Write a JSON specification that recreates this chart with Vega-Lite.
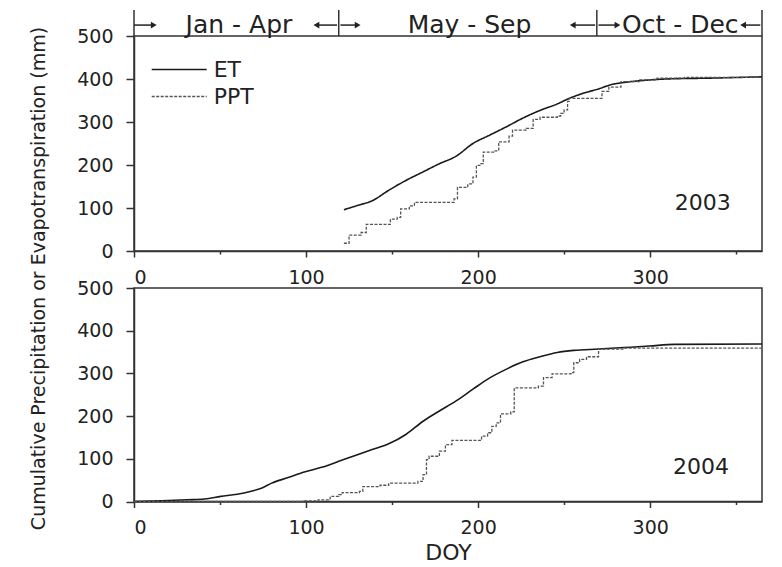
{
  "$schema": "https://vega.github.io/schema/vega-lite/v6.json",
  "background": "white",
  "padding": {"left": 28, "top": 8, "right": 5, "bottom": 3},
  "config": {
    "font": "DejaVu Sans",
    "view": {"stroke": "#333", "strokeWidth": 1.5},
    "axis": {
      "grid": false,
      "domainColor": "#333",
      "domainWidth": 1.5,
      "tickColor": "#333",
      "tickWidth": 1.5,
      "labelColor": "#222",
      "labelFont": "DejaVu Sans",
      "labelFontSize": 19,
      "titleColor": "#222",
      "titleFont": "DejaVu Sans",
      "titleFontWeight": "normal"
    }
  },
  "datasets": {
    "curves": [
      {"year": 2003, "series": "ET", "doy": 122, "mm": 96},
      {"year": 2003, "series": "ET", "doy": 130, "mm": 106},
      {"year": 2003, "series": "ET", "doy": 138.5, "mm": 117},
      {"year": 2003, "series": "ET", "doy": 148, "mm": 141},
      {"year": 2003, "series": "ET", "doy": 158, "mm": 164},
      {"year": 2003, "series": "ET", "doy": 168, "mm": 184},
      {"year": 2003, "series": "ET", "doy": 177.5, "mm": 203},
      {"year": 2003, "series": "ET", "doy": 187, "mm": 220},
      {"year": 2003, "series": "ET", "doy": 197, "mm": 250},
      {"year": 2003, "series": "ET", "doy": 207, "mm": 270},
      {"year": 2003, "series": "ET", "doy": 216.5, "mm": 289},
      {"year": 2003, "series": "ET", "doy": 226, "mm": 309},
      {"year": 2003, "series": "ET", "doy": 236, "mm": 327},
      {"year": 2003, "series": "ET", "doy": 246, "mm": 342},
      {"year": 2003, "series": "ET", "doy": 253, "mm": 355},
      {"year": 2003, "series": "ET", "doy": 260.5, "mm": 366},
      {"year": 2003, "series": "ET", "doy": 270, "mm": 377},
      {"year": 2003, "series": "ET", "doy": 277.5, "mm": 387},
      {"year": 2003, "series": "ET", "doy": 285, "mm": 392},
      {"year": 2003, "series": "ET", "doy": 297, "mm": 397},
      {"year": 2003, "series": "ET", "doy": 309, "mm": 400},
      {"year": 2003, "series": "ET", "doy": 334, "mm": 402},
      {"year": 2003, "series": "ET", "doy": 365, "mm": 405},

      {"year": 2003, "series": "PPT", "doy": 122, "mm": 18},
      {"year": 2003, "series": "PPT", "doy": 125, "mm": 37},
      {"year": 2003, "series": "PPT", "doy": 132, "mm": 43},
      {"year": 2003, "series": "PPT", "doy": 135, "mm": 62},
      {"year": 2003, "series": "PPT", "doy": 149, "mm": 74},
      {"year": 2003, "series": "PPT", "doy": 153, "mm": 78},
      {"year": 2003, "series": "PPT", "doy": 155, "mm": 98},
      {"year": 2003, "series": "PPT", "doy": 160, "mm": 105},
      {"year": 2003, "series": "PPT", "doy": 163, "mm": 113},
      {"year": 2003, "series": "PPT", "doy": 186, "mm": 121},
      {"year": 2003, "series": "PPT", "doy": 188, "mm": 148},
      {"year": 2003, "series": "PPT", "doy": 194, "mm": 156},
      {"year": 2003, "series": "PPT", "doy": 197, "mm": 172},
      {"year": 2003, "series": "PPT", "doy": 199, "mm": 199},
      {"year": 2003, "series": "PPT", "doy": 201, "mm": 203},
      {"year": 2003, "series": "PPT", "doy": 203, "mm": 230},
      {"year": 2003, "series": "PPT", "doy": 209, "mm": 233},
      {"year": 2003, "series": "PPT", "doy": 212, "mm": 254},
      {"year": 2003, "series": "PPT", "doy": 218, "mm": 267},
      {"year": 2003, "series": "PPT", "doy": 220, "mm": 281},
      {"year": 2003, "series": "PPT", "doy": 228, "mm": 285},
      {"year": 2003, "series": "PPT", "doy": 232, "mm": 306},
      {"year": 2003, "series": "PPT", "doy": 236, "mm": 311},
      {"year": 2003, "series": "PPT", "doy": 246, "mm": 314},
      {"year": 2003, "series": "PPT", "doy": 248, "mm": 320},
      {"year": 2003, "series": "PPT", "doy": 250, "mm": 328},
      {"year": 2003, "series": "PPT", "doy": 252, "mm": 348},
      {"year": 2003, "series": "PPT", "doy": 253, "mm": 355},
      {"year": 2003, "series": "PPT", "doy": 272, "mm": 371},
      {"year": 2003, "series": "PPT", "doy": 276, "mm": 381},
      {"year": 2003, "series": "PPT", "doy": 283, "mm": 394},
      {"year": 2003, "series": "PPT", "doy": 294, "mm": 398},
      {"year": 2003, "series": "PPT", "doy": 304, "mm": 402},
      {"year": 2003, "series": "PPT", "doy": 320, "mm": 404},
      {"year": 2003, "series": "PPT", "doy": 365, "mm": 405},

      {"year": 2004, "series": "ET", "doy": 0, "mm": 0},
      {"year": 2004, "series": "ET", "doy": 16, "mm": 1.6},
      {"year": 2004, "series": "ET", "doy": 31, "mm": 4},
      {"year": 2004, "series": "ET", "doy": 41, "mm": 6},
      {"year": 2004, "series": "ET", "doy": 50.5, "mm": 12},
      {"year": 2004, "series": "ET", "doy": 60, "mm": 17},
      {"year": 2004, "series": "ET", "doy": 67.6, "mm": 23.5},
      {"year": 2004, "series": "ET", "doy": 74, "mm": 31},
      {"year": 2004, "series": "ET", "doy": 80, "mm": 43},
      {"year": 2004, "series": "ET", "doy": 89.6, "mm": 56},
      {"year": 2004, "series": "ET", "doy": 99, "mm": 69},
      {"year": 2004, "series": "ET", "doy": 109, "mm": 80},
      {"year": 2004, "series": "ET", "doy": 119, "mm": 94},
      {"year": 2004, "series": "ET", "doy": 128.6, "mm": 108},
      {"year": 2004, "series": "ET", "doy": 138, "mm": 121},
      {"year": 2004, "series": "ET", "doy": 148, "mm": 135},
      {"year": 2004, "series": "ET", "doy": 158, "mm": 157},
      {"year": 2004, "series": "ET", "doy": 168, "mm": 188},
      {"year": 2004, "series": "ET", "doy": 177.5, "mm": 212},
      {"year": 2004, "series": "ET", "doy": 187, "mm": 235},
      {"year": 2004, "series": "ET", "doy": 197, "mm": 263},
      {"year": 2004, "series": "ET", "doy": 207, "mm": 290},
      {"year": 2004, "series": "ET", "doy": 216.5, "mm": 310},
      {"year": 2004, "series": "ET", "doy": 226, "mm": 327},
      {"year": 2004, "series": "ET", "doy": 236, "mm": 339},
      {"year": 2004, "series": "ET", "doy": 246, "mm": 349},
      {"year": 2004, "series": "ET", "doy": 255.6, "mm": 354},
      {"year": 2004, "series": "ET", "doy": 270, "mm": 357},
      {"year": 2004, "series": "ET", "doy": 285, "mm": 360.5},
      {"year": 2004, "series": "ET", "doy": 299.5, "mm": 364},
      {"year": 2004, "series": "ET", "doy": 314, "mm": 368},
      {"year": 2004, "series": "ET", "doy": 365, "mm": 369},

      {"year": 2004, "series": "PPT", "doy": 0, "mm": 0},
      {"year": 2004, "series": "PPT", "doy": 99, "mm": 1.6},
      {"year": 2004, "series": "PPT", "doy": 107, "mm": 4},
      {"year": 2004, "series": "PPT", "doy": 113, "mm": 6},
      {"year": 2004, "series": "PPT", "doy": 114, "mm": 12},
      {"year": 2004, "series": "PPT", "doy": 119, "mm": 16},
      {"year": 2004, "series": "PPT", "doy": 121, "mm": 21},
      {"year": 2004, "series": "PPT", "doy": 131, "mm": 23.5},
      {"year": 2004, "series": "PPT", "doy": 133, "mm": 35},
      {"year": 2004, "series": "PPT", "doy": 143, "mm": 38},
      {"year": 2004, "series": "PPT", "doy": 148, "mm": 43},
      {"year": 2004, "series": "PPT", "doy": 165, "mm": 47},
      {"year": 2004, "series": "PPT", "doy": 168, "mm": 63},
      {"year": 2004, "series": "PPT", "doy": 170, "mm": 98},
      {"year": 2004, "series": "PPT", "doy": 171.5, "mm": 106},
      {"year": 2004, "series": "PPT", "doy": 177.5, "mm": 118},
      {"year": 2004, "series": "PPT", "doy": 181, "mm": 133},
      {"year": 2004, "series": "PPT", "doy": 184.8, "mm": 143},
      {"year": 2004, "series": "PPT", "doy": 202, "mm": 153},
      {"year": 2004, "series": "PPT", "doy": 205.5, "mm": 161},
      {"year": 2004, "series": "PPT", "doy": 208, "mm": 176},
      {"year": 2004, "series": "PPT", "doy": 210.5, "mm": 184},
      {"year": 2004, "series": "PPT", "doy": 213, "mm": 205},
      {"year": 2004, "series": "PPT", "doy": 219, "mm": 210},
      {"year": 2004, "series": "PPT", "doy": 221, "mm": 266},
      {"year": 2004, "series": "PPT", "doy": 235, "mm": 270},
      {"year": 2004, "series": "PPT", "doy": 238, "mm": 290},
      {"year": 2004, "series": "PPT", "doy": 243, "mm": 299},
      {"year": 2004, "series": "PPT", "doy": 254, "mm": 302},
      {"year": 2004, "series": "PPT", "doy": 255.6, "mm": 325},
      {"year": 2004, "series": "PPT", "doy": 259, "mm": 333},
      {"year": 2004, "series": "PPT", "doy": 263, "mm": 339},
      {"year": 2004, "series": "PPT", "doy": 270, "mm": 357},
      {"year": 2004, "series": "PPT", "doy": 285, "mm": 359},
      {"year": 2004, "series": "PPT", "doy": 365, "mm": 359}
    ],
    "dividers": [{"doy": 0}, {"doy": 119}, {"doy": 269}, {"doy": 365}],
    "arrows": [
      {"from": 0, "to": 11.5, "dir": "right"},
      {"from": 118, "to": 106, "dir": "left"},
      {"from": 120, "to": 130, "dir": "right"},
      {"from": 268, "to": 255, "dir": "left"},
      {"from": 270, "to": 281, "dir": "right"},
      {"from": 364, "to": 354, "dir": "left"}
    ],
    "periods": [
      {"period": "Jan - Apr", "mid": 61},
      {"period": "May - Sep", "mid": 195},
      {"period": "Oct - Dec", "mid": 317.5}
    ]
  },
  "bounds": "flush",
  "spacing": 37,
  "resolve": {"scale": {"color": "independent", "strokeDash": "independent", "shape": "independent"}},
  "vconcat": [
    {
      "width": 628,
      "height": 215,
      "resolve": {"scale": {"y": "independent"}},
      "layer": [
        {
          "layer": [
            {
              "data": {"name": "curves"},
              "transform": [{"filter": "datum.year == 2003 && datum.series == 'ET'"}],
              "mark": {"type": "line", "interpolate": "monotone", "strokeWidth": 1.6},
              "encoding": {
                "x": {"field": "doy", "type": "quantitative", "scale": {"domain": [0, 365], "nice": false},
                  "axis": {"values": [0, 50, 100, 150, 200, 250, 300, 350], "labelExpr": "datum.value % 100 === 0 ? datum.label : ''",
                    "tickSize": {"condition": {"test": "datum.value % 100 === 0", "value": 6}, "value": 3}, "labelPadding": 11, "title": null}},
                "y": {"field": "mm", "type": "quantitative", "scale": {"domain": [0, 500], "nice": false},
                  "axis": {"values": [0, 50, 100, 150, 200, 250, 300, 350, 400, 450, 500], "labelExpr": "datum.value % 100 === 0 ? datum.label : ''",
                    "tickSize": {"condition": {"test": "datum.value % 100 === 0", "value": 8}, "value": 4}, "labelPadding": 13,
                    "title": "Cumulative Precipitation or Evapotranspiration (mm)", "titleFontSize": 19, "titleAngle": -90,
                    "titleX": -105, "titleY": 242, "titleAlign": "center", "titleBaseline": "top"}},
                "color": {"field": "series", "type": "nominal", "scale": {"domain": ["ET", "PPT"], "range": ["#1a1a1a", "#555555"]},
                  "legend": {"orient": "none", "legendX": 16.7, "legendY": 20, "title": null, "symbolType": "stroke", "symbolSize": 3025,
                    "symbolStrokeWidth": 1.5, "labelFontSize": 22, "labelFont": "DejaVu Sans", "labelColor": "#222", "labelOffset": 6,
                    "clipHeight": 27, "rowPadding": 0, "padding": 0}},
                "strokeDash": {"field": "series", "type": "nominal", "scale": {"domain": ["ET", "PPT"], "range": [[1, 0], [3, 1.5]]},
                  "legend": {"orient": "none", "legendX": 16.7, "legendY": 20, "title": null, "symbolType": "stroke", "symbolSize": 3025,
                    "symbolStrokeWidth": 1.5, "labelFontSize": 22, "labelFont": "DejaVu Sans", "labelColor": "#222", "labelOffset": 6,
                    "clipHeight": 27, "rowPadding": 0, "padding": 0}}
              }
            },
            {
              "data": {"name": "curves"},
              "transform": [{"filter": "datum.year == 2003 && datum.series == 'PPT'"}],
              "mark": {"type": "line", "interpolate": "step-after", "strokeWidth": 1.3},
              "encoding": {
                "x": {"field": "doy", "type": "quantitative"},
                "y": {"field": "mm", "type": "quantitative"},
                "color": {"field": "series", "type": "nominal"},
                "strokeDash": {"field": "series", "type": "nominal"}
              }
            },
            {
              "data": {"values": [{"label": "2003"}]},
              "mark": {"type": "text", "fontSize": 22, "font": "DejaVu Sans", "color": "#222", "baseline": "middle", "align": "center"},
              "encoding": {
                "x": {"datum": 330.6, "type": "quantitative"},
                "y": {"datum": 112.5, "type": "quantitative"},
                "text": {"field": "label"}
              }
            }
          ]
        },
        {
          "layer": [
            {
              "data": {"name": "dividers"},
              "mark": {"type": "rule", "color": "#333", "strokeWidth": 1.5},
              "encoding": {
                "x": {"field": "doy", "type": "quantitative"},
                "y": {"datum": 0, "type": "quantitative", "scale": {"domain": [0, 1], "range": [0, -26], "nice": false, "zero": false}, "axis": null},
                "y2": {"datum": 1}
              }
            },
            {
              "data": {"name": "arrows"},
              "mark": {"type": "rule", "color": "#222", "strokeWidth": 1.5},
              "encoding": {
                "x": {"field": "from", "type": "quantitative"},
                "x2": {"field": "to"},
                "y": {"datum": 0.42, "type": "quantitative"}
              }
            },
            {
              "data": {"name": "arrows"},
              "mark": {"type": "point", "filled": true, "color": "#222", "size": 45, "opacity": 1},
              "encoding": {
                "x": {"field": "to", "type": "quantitative"},
                "y": {"datum": 0.42, "type": "quantitative"},
                "shape": {"field": "dir", "type": "nominal", "scale": {"domain": ["left", "right"], "range": ["triangle-left", "triangle-right"]}, "legend": null}
              }
            },
            {
              "data": {"name": "periods"},
              "mark": {"type": "text", "fontSize": 25, "font": "DejaVu Sans", "color": "#222", "baseline": "middle", "align": "center"},
              "encoding": {
                "x": {"field": "mid", "type": "quantitative"},
                "y": {"datum": 0.41, "type": "quantitative"},
                "text": {"field": "period"}
              }
            }
          ]
        }
      ]
    },
    {
      "width": 628,
      "height": 213.5,
      "layer": [
        {
          "data": {"name": "curves"},
          "transform": [{"filter": "datum.year == 2004 && datum.series == 'ET'"}],
          "mark": {"type": "line", "interpolate": "monotone", "strokeWidth": 1.6, "color": "#1a1a1a"},
          "encoding": {
            "x": {"field": "doy", "type": "quantitative", "scale": {"domain": [0, 365], "nice": false},
              "axis": {"values": [0, 50, 100, 150, 200, 250, 300, 350], "labelExpr": "datum.value % 100 === 0 ? datum.label : ''",
                "tickSize": {"condition": {"test": "datum.value % 100 === 0", "value": 6}, "value": 3}, "labelPadding": 11,
                "title": "DOY", "titleFontSize": 22, "titleY": 41, "titleBaseline": "top"}},
            "y": {"field": "mm", "type": "quantitative", "scale": {"domain": [0, 500], "nice": false},
              "axis": {"values": [0, 50, 100, 150, 200, 250, 300, 350, 400, 450, 500], "labelExpr": "datum.value % 100 === 0 ? datum.label : ''",
                "tickSize": {"condition": {"test": "datum.value % 100 === 0", "value": 8}, "value": 4}, "labelPadding": 13, "title": null}}
          }
        },
        {
          "data": {"name": "curves"},
          "transform": [{"filter": "datum.year == 2004 && datum.series == 'PPT'"}],
          "mark": {"type": "line", "interpolate": "step-after", "strokeWidth": 1.3, "color": "#555555", "strokeDash": [3, 1.5]},
          "encoding": {
            "x": {"field": "doy", "type": "quantitative"},
            "y": {"field": "mm", "type": "quantitative"}
          }
        },
        {
          "data": {"values": [{"label": "2004"}]},
          "mark": {"type": "text", "fontSize": 22, "font": "DejaVu Sans", "color": "#222", "baseline": "middle", "align": "center"},
          "encoding": {
            "x": {"datum": 329.5, "type": "quantitative"},
            "y": {"datum": 80.7, "type": "quantitative"},
            "text": {"field": "label"}
          }
        }
      ]
    }
  ]
}
